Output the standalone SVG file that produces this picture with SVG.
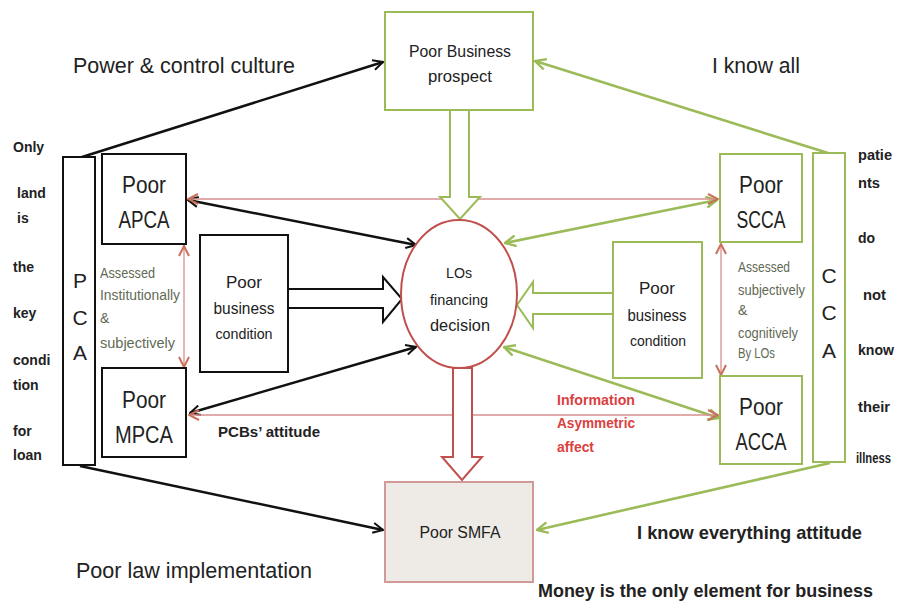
<svg xmlns="http://www.w3.org/2000/svg" width="899" height="604" viewBox="0 0 899 604">
<defs>
<style>
text{font-family:"Liberation Sans",Arial,sans-serif;}
.bk{fill:none;stroke:#111;stroke-width:2.5}
.gr{fill:none;stroke:#9bbb59;stroke-width:2.6}
.rd{fill:none;stroke:#d98e8e;stroke-width:1.3}
.boxk{fill:#fff;stroke:#111;stroke-width:2}
.boxg{fill:#fff;stroke:#9bbb59;stroke-width:2}
.lbl{fill:#222;text-anchor:middle}
.side{font-size:14px;font-weight:bold;fill:#222}
.ass{font-size:14px;fill:#5f6a55}
</style>
<marker id="ak" viewBox="0 0 12 12" refX="11" refY="6" markerWidth="12" markerHeight="12" markerUnits="userSpaceOnUse" orient="auto-start-reverse"><path d="M1,1 L11,6 L1,11" fill="none" stroke="#111" stroke-width="2"/></marker>
<marker id="ag" viewBox="0 0 12 12" refX="11" refY="6" markerWidth="13" markerHeight="13" markerUnits="userSpaceOnUse" orient="auto-start-reverse"><path d="M1,1 L11,6 L1,11" fill="none" stroke="#9bbb59" stroke-width="2.2"/></marker>
<marker id="ar" viewBox="0 0 12 12" refX="11" refY="6" markerWidth="12" markerHeight="12" markerUnits="userSpaceOnUse" orient="auto-start-reverse"><path d="M1,1 L11,6 L1,11" fill="none" stroke="#c8705a" stroke-width="2"/></marker>
</defs>
<rect width="899" height="604" fill="#fff"/>

<g id="connectors">
<line class="bk" x1="82" y1="157" x2="383" y2="62" marker-end="url(#ak)"/>
<line class="bk" x1="80" y1="466" x2="383" y2="530" marker-end="url(#ak)"/>
<line class="gr" x1="828" y1="153" x2="535" y2="61" marker-end="url(#ag)"/>
<line class="gr" x1="830" y1="463" x2="537" y2="530" marker-end="url(#ag)"/>
<line class="bk" x1="188" y1="200" x2="416" y2="245" marker-start="url(#ak)" marker-end="url(#ak)"/>
<line class="bk" x1="190" y1="413" x2="416" y2="347" marker-start="url(#ak)" marker-end="url(#ak)"/>
<line class="gr" x1="717" y1="200" x2="505" y2="243" marker-start="url(#ag)" marker-end="url(#ag)"/>
<line class="gr" x1="719" y1="418" x2="504" y2="347" marker-start="url(#ag)" marker-end="url(#ag)"/>
<line class="rd" x1="188" y1="199" x2="718" y2="199" marker-start="url(#ar)" marker-end="url(#ar)"/>
<line class="rd" x1="189" y1="415" x2="718" y2="415" marker-start="url(#ar)" marker-end="url(#ar)"/>
<line class="rd" x1="184" y1="246" x2="184" y2="367" marker-start="url(#ar)" marker-end="url(#ar)"/>
<line class="rd" x1="721" y1="244" x2="721" y2="375" marker-start="url(#ar)" marker-end="url(#ar)"/>
<polygon points="450,110 469,110 469,197 480,197 460,219 440,197 450,197" fill="#fff" stroke="#9bbb59" stroke-width="2"/>
<polygon points="288,289 383,289 383,277 402,299 383,322 383,308 288,308" fill="#fff" stroke="#111" stroke-width="2"/>
<polygon points="613,293 533,293 533,282 517,305 533,328 533,314 613,314" fill="#fff" stroke="#9bbb59" stroke-width="2"/>
<polygon points="453,368 472,368 472,457 482,457 462,480 442,457 453,457" fill="#fff" stroke="#c0504d" stroke-width="2"/>
</g>

<g id="prospect">
<rect class="boxg" x="385" y="12" width="148" height="98"/>
<text class="lbl" x="460" y="57" font-size="16" textLength="102" lengthAdjust="spacingAndGlyphs">Poor Business</text>
<text class="lbl" x="460" y="82" font-size="16" textLength="64" lengthAdjust="spacingAndGlyphs">prospect</text>
</g>

<g id="decision">
<ellipse cx="459" cy="294" rx="58" ry="74" fill="#fff" stroke="#c0504d" stroke-width="2"/>
<text class="lbl" x="459" y="278" font-size="14" fill="#444" textLength="26" lengthAdjust="spacingAndGlyphs">LOs</text>
<text class="lbl" x="459" y="305" font-size="15" textLength="58" lengthAdjust="spacingAndGlyphs">financing</text>
<text class="lbl" x="460" y="331" font-size="17" textLength="60" lengthAdjust="spacingAndGlyphs">decision</text>
</g>

<g id="smfa">
<rect x="385" y="482" width="148" height="100" fill="#eeebe6" stroke="#cf9a98" stroke-width="2"/>
<text class="lbl" x="460" y="538" font-size="16" textLength="81" lengthAdjust="spacingAndGlyphs">Poor SMFA</text>
</g>

<g id="pca">
<rect class="boxk" x="63" y="157" width="32" height="308"/>
<text class="lbl" x="80" y="288" font-size="21">P</text>
<text class="lbl" x="80" y="325" font-size="21">C</text>
<text class="lbl" x="80" y="360" font-size="21">A</text>
</g>

<g id="apca">
<rect class="boxk" x="102" y="154" width="84" height="90"/>
<text class="lbl" x="144" y="193" font-size="23" textLength="44" lengthAdjust="spacingAndGlyphs">Poor</text>
<text class="lbl" x="144" y="228" font-size="23" textLength="51" lengthAdjust="spacingAndGlyphs">APCA</text>
</g>

<g id="mpca">
<rect class="boxk" x="102" y="368" width="84" height="89"/>
<text class="lbl" x="144" y="408" font-size="23" textLength="44" lengthAdjust="spacingAndGlyphs">Poor</text>
<text class="lbl" x="144" y="443" font-size="23" textLength="58" lengthAdjust="spacingAndGlyphs">MPCA</text>
</g>

<g id="bizleft">
<rect class="boxk" x="200" y="235" width="88" height="137"/>
<text class="lbl" x="244" y="288" font-size="17" textLength="36" lengthAdjust="spacingAndGlyphs">Poor</text>
<text class="lbl" x="244" y="314" font-size="17" textLength="61" lengthAdjust="spacingAndGlyphs">business</text>
<text class="lbl" x="244" y="339" font-size="15" textLength="57" lengthAdjust="spacingAndGlyphs">condition</text>
</g>

<g id="bizright">
<rect class="boxg" x="613" y="242" width="89" height="136"/>
<text class="lbl" x="657" y="294" font-size="17" textLength="36" lengthAdjust="spacingAndGlyphs">Poor</text>
<text class="lbl" x="657" y="321" font-size="17" textLength="59" lengthAdjust="spacingAndGlyphs">business</text>
<text class="lbl" x="658" y="346" font-size="15" textLength="56" lengthAdjust="spacingAndGlyphs">condition</text>
</g>

<g id="scca">
<rect class="boxg" x="720" y="154" width="82" height="88"/>
<text class="lbl" x="761" y="193" font-size="23" textLength="44" lengthAdjust="spacingAndGlyphs">Poor</text>
<text class="lbl" x="761" y="228" font-size="23" textLength="49" lengthAdjust="spacingAndGlyphs">SCCA</text>
</g>

<g id="acca">
<rect class="boxg" x="720" y="376" width="82" height="88"/>
<text class="lbl" x="761" y="415" font-size="23" textLength="44" lengthAdjust="spacingAndGlyphs">Poor</text>
<text class="lbl" x="761" y="450" font-size="23" textLength="51" lengthAdjust="spacingAndGlyphs">ACCA</text>
</g>

<g id="cca">
<rect class="boxg" x="813" y="153" width="32" height="309"/>
<text class="lbl" x="829" y="283" font-size="21">C</text>
<text class="lbl" x="829" y="320" font-size="21">C</text>
<text class="lbl" x="829" y="358" font-size="21">A</text>
</g>

<g id="labels">
<text x="73" y="73" font-size="22" fill="#222" textLength="222" lengthAdjust="spacingAndGlyphs">Power &amp; control culture</text>
<text x="712" y="73" font-size="22" fill="#222" textLength="88" lengthAdjust="spacingAndGlyphs">I know all</text>
<text x="76" y="578" font-size="22" fill="#222" textLength="236" lengthAdjust="spacingAndGlyphs">Poor law implementation</text>
<text x="637" y="539" font-size="19" font-weight="bold" fill="#222" textLength="225" lengthAdjust="spacingAndGlyphs">I know everything attitude</text>
<text x="538" y="597" font-size="19" font-weight="bold" fill="#222" textLength="335" lengthAdjust="spacingAndGlyphs">Money is the only element for business</text>
<text x="218" y="437" font-size="15" font-weight="bold" fill="#222" textLength="102" lengthAdjust="spacingAndGlyphs">PCBs’ attitude</text>
<text x="557" y="405" font-size="14" font-weight="bold" fill="#d9413f" textLength="78" lengthAdjust="spacingAndGlyphs">Information</text>
<text x="557" y="428" font-size="14" font-weight="bold" fill="#d9413f" textLength="78" lengthAdjust="spacingAndGlyphs">Asymmetric</text>
<text x="557" y="452" font-size="14" font-weight="bold" fill="#d9413f" textLength="37" lengthAdjust="spacingAndGlyphs">affect</text>
<text class="ass" x="100" y="278" textLength="55" lengthAdjust="spacingAndGlyphs">Assessed</text>
<text class="ass" x="100" y="300" textLength="80" lengthAdjust="spacingAndGlyphs">Institutionally</text>
<text class="ass" x="100" y="323">&amp;</text>
<text class="ass" x="100" y="348" textLength="75" lengthAdjust="spacingAndGlyphs">subjectively</text>
<text class="ass" x="738" y="272" font-size="13" textLength="52" lengthAdjust="spacingAndGlyphs">Assessed</text>
<text class="ass" x="738" y="295" font-size="13" textLength="67" lengthAdjust="spacingAndGlyphs">subjectively</text>
<text class="ass" x="738" y="315" font-size="13">&amp;</text>
<text class="ass" x="738" y="338" font-size="13" textLength="60" lengthAdjust="spacingAndGlyphs">cognitively</text>
<text class="ass" x="738" y="358" font-size="13" textLength="37" lengthAdjust="spacingAndGlyphs">By LOs</text>
<text class="side" x="13" y="152">Only</text>
<text class="side" x="17" y="198">land</text>
<text class="side" x="17" y="223">is</text>
<text class="side" x="13" y="272">the</text>
<text class="side" x="13" y="318">key</text>
<text class="side" x="13" y="365">condi</text>
<text class="side" x="13" y="390">tion</text>
<text class="side" x="13" y="436">for</text>
<text class="side" x="13" y="460">loan</text>
<text class="side" x="858" y="160" textLength="34" lengthAdjust="spacingAndGlyphs">patie</text>
<text class="side" x="858" y="188" textLength="22" lengthAdjust="spacingAndGlyphs">nts</text>
<text class="side" x="858" y="243">do</text>
<text class="side" x="863" y="300" textLength="23" lengthAdjust="spacingAndGlyphs">not</text>
<text class="side" x="858" y="355" textLength="36" lengthAdjust="spacingAndGlyphs">know</text>
<text class="side" x="858" y="412" textLength="32" lengthAdjust="spacingAndGlyphs">their</text>
<text class="side" x="856" y="463" textLength="35" lengthAdjust="spacingAndGlyphs">illness</text>
</g>
</svg>
